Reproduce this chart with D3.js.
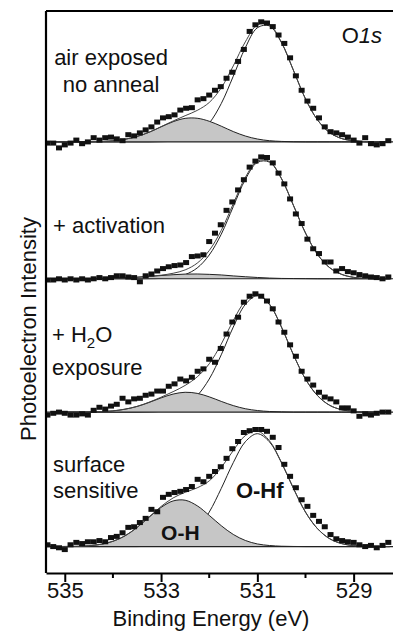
<!DOCTYPE html>
<html>
<head>
<meta charset="utf-8">
<script src="https://cdn.jsdelivr.net/npm/d3@7"></script>
<style>
    html, body { margin: 0; padding: 0; background: #fff; }
    svg { display: block; font-family: "Liberation Sans", Arial, sans-serif; }
</style>
</head>
<body>
<svg id="chart" width="393" height="639"></svg>
<script>
/* --------------------------------------------------------------
O1s XPS — four stacked spectra with O-H / O-Hf components
-------------------------------------------------------------- */

/* --------------------------------------------------------------
DATA (intensity in a.u., each spectrum above its own baseline)
-------------------------------------------------------------- */

// measured points: 535.36 eV down, 0.12 eV steps
const DATA_ENERGY = d3.range(60).map(i => 535.36 - 0.12 * i);

const DATA_AIR = [
    -1, -1, -5, -2.5, -1, 1.5, -1.5, 0, 3.5, 1.5,
    3.5, 4, 2.5, 1, 6, 5, 7.5, 10, 12.5, 16.5,
    20, 21, 22.5, 26.5, 28, 28.5, 35, 36, 39, 43,
    46, 53, 58, 67, 77, 92, 97.5, 100, 99, 96,
    89, 82, 70, 55, 43, 34, 28, 20, 12.5, 8.5,
    7.5, 6, 4, 1.5, -1, 3.5, -1.5, -2.5, -1.5, 1
];

const DATA_ACT = [
    -1, -1, 0, -1, 0, -1, 0, -1, 0, 1,
    0, 1, 2.5, 2.5, 1.5, 1, -2.5, 2.5, 4, 6.5,
    8.5, 10, 11, 11.5, 13.5, 18.5, 19, 20, 31, 38,
    45, 57, 64, 74, 82.5, 93, 98, 101.5, 101, 96.5,
    88, 79, 66.5, 54, 46, 33, 25, 21, 14, 14,
    6.5, 8.5, 6, 5, 3.5, 2.5, 1.5, 1, 0, 1.5
];

const DATA_H2O = [
    -2.5, -1, 0, -1, -2.5, -2.5, -1.5, -2.5, 1.5, 4,
    2.5, 5, 6.5, 11.5, 8.5, 11, 11.5, 14, 15, 17.5,
    17.5, 21.5, 23.5, 27.5, 26, 29, 34, 36, 44, 41.5,
    53, 65, 75, 79, 91.5, 96.5, 98.5, 96.5, 92.5, 86,
    75, 66.5, 56, 46.5, 34, 27.5, 22.5, 16.5, 12.5, 11,
    8.5, 3.5, 3.5, 1, -3.5, -1.5, -2.5, -1, 0, 0
];

const DATA_SURF = [
    1.5, 0, -1, -2.5, 1.5, 3.5, 2.5, 4, 4, 5,
    4, 7.5, 8.5, 11.5, 16, 16.5, 20, 23.5, 31, 29,
    41, 43.5, 45, 46, 47.5, 50, 56, 54, 58.5, 62.5,
    66.5, 73.5, 81.5, 87.5, 95, 96.5, 97.5, 97.5, 96, 91,
    82.5, 68.5, 58.5, 49, 39, 33.5, 26, 21, 16.5, 10,
    6.5, 5, 4, 3.5, 1.5, 0, 1, -1, 1, 3.5
];

// fitted components: 535.25 eV down, 0.25 eV steps
const FIT_ENERGY = d3.range(29).map(k => 535.25 - 0.25 * k);

const OH_AIR = [
    0, 0, 0, 0.1, 0.3, 0.9, 2.2, 4.5, 8.0, 12.5,
    16.8, 19.6, 19.7, 17.2, 13.1, 8.6, 4.9, 2.4, 1.0, 0.4,
    0.1, 0, 0, 0, 0, 0, 0, 0, 0
];
const OHF_AIR = [
    0, 0, 0, 0, 0, 0, 0, 0, 0, 0.2,
    0.6, 2.2, 6.5, 15.6, 31.9, 54.7, 78.4, 95.0, 96.6, 82.7,
    59.5, 35.8, 18.3, 7.8, 2.8, 0.9, 0.2, 0, 0
];

const OH_ACT = [
    0, 0, 0, 0.1, 0.2, 0.4, 0.8, 1.3, 2.0, 2.7,
    3.4, 3.9, 4.0, 3.7, 3.2, 2.4, 1.7, 1.1, 0.6, 0.3,
    0.2, 0.1, 0, 0, 0, 0, 0, 0, 0
];
const OHF_ACT = [
    0, 0, 0, 0, 0, 0, 0, 0, 0.1, 0.3,
    1.2, 3.5, 9.0, 19.8, 37.1, 60.1, 82.7, 96.9, 97.2, 83.4,
    61.0, 38.1, 20.3, 9.3, 3.7, 1.2, 0.3, 0.1, 0
];

const OH_H2O = [
    0, 0, 0, 0.1, 0.4, 1.0, 2.4, 4.7, 8.0, 11.8,
    15.0, 16.5, 15.6, 12.7, 8.9, 5.4, 2.8, 1.3, 0.5, 0.2,
    0, 0, 0, 0, 0, 0, 0, 0, 0
];
const OHF_H2O = [
    0, 0, 0, 0, 0, 0, 0, 0, 0.2, 0.6,
    2.0, 5.7, 13.7, 27.5, 47.7, 70.8, 89.6, 97.0, 89.6, 70.8,
    47.7, 27.5, 13.7, 5.7, 2.0, 0.6, 0.2, 0, 0
];

const OH_SURF = [
    0, 0.1, 0.2, 0.7, 1.9, 4.4, 8.9, 15.9, 24.4, 32.6,
    38.0, 38.6, 34.0, 26.0, 17.4, 10.1, 5.1, 2.2, 0.9, 0.3,
    0.1, 0, 0, 0, 0, 0, 0, 0, 0
];
const OHF_SURF = [
    0, 0, 0, 0, 0, 0, 0, 0, 0.2, 0.8,
    2.5, 6.6, 14.9, 28.7, 48.4, 69.9, 87.3, 94.0, 87.3, 69.9,
    48.4, 28.7, 14.9, 6.6, 2.5, 0.8, 0.2, 0, 0
];

// vertical offsets of the stacked spectra (a.u.)
const PANEL_OFFSET = [337, 223, 112, 0];

const MAJOR_TICKS = [535, 533, 531, 529];
const MINOR_TICKS = [534, 532, 530];

const PANELS = [
    { data: DATA_AIR,  oh: OH_AIR,  ohf: OHF_AIR,  offset: PANEL_OFFSET[0] },
    { data: DATA_ACT,  oh: OH_ACT,  ohf: OHF_ACT,  offset: PANEL_OFFSET[1] },
    { data: DATA_H2O,  oh: OH_H2O,  ohf: OHF_H2O,  offset: PANEL_OFFSET[2] },
    { data: DATA_SURF, oh: OH_SURF, ohf: OHF_SURF, offset: PANEL_OFFSET[3] }
];

/* --------------------------------------------------------------
LAYOUT
-------------------------------------------------------------- */

const margin = { left: 46, top: 11, right: -3, bottom: 66 };
const W = 393, H = 639;
const plotW = W - margin.left - margin.right;
const plotH = H - margin.top - margin.bottom;

const x = d3.scaleLinear().domain([535.39, 528.12]).range([0, plotW]);
const y = d3.scaleLinear().domain([-22, 446]).range([plotH, 0]);

const svg = d3.select("#chart");
const g = svg.append("g").attr("transform", `translate(${margin.left},${margin.top})`);

svg.append("defs").append("clipPath").attr("id", "plotClip")
    .append("rect").attr("width", plotW).attr("height", plotH);

const plot = g.append("g").attr("clip-path", "url(#plotClip)");

/* --------------------------------------------------------------
SPECTRA
-------------------------------------------------------------- */

function renderPanel(p) {
    const base = y(p.offset);
    const fit = FIT_ENERGY.map((e, k) => ({ e, oh: p.oh[k], ohf: p.ohf[k], tot: p.oh[k] + p.ohf[k] }));

    const line = key => d3.line()
        .x(d => x(d.e))
        .y(d => y(p.offset + d[key]))
        .curve(d3.curveCatmullRom.alpha(0.5));

    // O-Hf component first, the gray O-H area hides its foot
    plot.append("path").datum(fit).attr("d", line("ohf"))
        .attr("fill", "none").attr("stroke", "#222").attr("stroke-width", 1);

    plot.append("path")
        .datum(fit)
        .attr("d", d3.area()
            .x(d => x(d.e))
            .y0(base)
            .y1(d => y(p.offset + d.oh))
            .curve(d3.curveCatmullRom.alpha(0.5)))
        .attr("fill", "#c6c6c6");

    plot.append("line")
        .attr("x1", 0).attr("x2", plotW)
        .attr("y1", base).attr("y2", base)
        .attr("stroke", "#222").attr("stroke-width", 1.1);

    plot.append("path").datum(fit).attr("d", line("oh"))
        .attr("fill", "none").attr("stroke", "#222").attr("stroke-width", 1);

    plot.append("path").datum(fit).attr("d", line("tot"))
        .attr("fill", "none").attr("stroke", "#444").attr("stroke-width", 1);

    plot.append("g").selectAll("rect")
        .data(p.data)
        .enter()
        .append("rect")
        .attr("x", (d, i) => x(DATA_ENERGY[i]) - 3)
        .attr("y", d => y(p.offset + d) - 2.5)
        .attr("width", 6)
        .attr("height", 5)
        .attr("fill", "#111");
}

PANELS.forEach(renderPanel);

/* --------------------------------------------------------------
FRAME + AXES
-------------------------------------------------------------- */

g.append("line").attr("x1", 0).attr("x2", plotW).attr("y1", 0).attr("y2", 0)
    .attr("stroke", "#000").attr("stroke-width", 2.2);
g.append("line").attr("x1", 0).attr("x2", 0).attr("y1", 0).attr("y2", plotH)
    .attr("stroke", "#000").attr("stroke-width", 2.2);

const xAxis = g.append("g")
    .attr("transform", `translate(0,${plotH})`)
    .call(d3.axisBottom(x).tickValues(MAJOR_TICKS).tickFormat(d3.format("d"))
        .tickSize(9).tickPadding(0).tickSizeOuter(0));

xAxis.select(".domain").attr("stroke", "#000").attr("stroke-width", 2.2);
xAxis.selectAll(".tick line").attr("stroke", "#000").attr("stroke-width", 2);
xAxis.selectAll(".tick text")
    .attr("font-size", 22).attr("fill", "#111")
    .attr("font-family", "'Liberation Sans', Arial, sans-serif");

g.append("g")
    .attr("transform", `translate(0,${plotH})`)
    .selectAll("line")
    .data(MINOR_TICKS)
    .enter()
    .append("line")
    .attr("x1", d => x(d)).attr("x2", d => x(d))
    .attr("y1", 0).attr("y2", 5)
    .attr("stroke", "#000").attr("stroke-width", 2);

svg.append("text")
    .attr("x", 211).attr("y", 626)
    .attr("text-anchor", "middle")
    .attr("font-size", 22).attr("fill", "#111")
    .text("Binding Energy (eV)");

svg.append("text")
    .attr("transform", "translate(36,329) rotate(-90)")
    .attr("text-anchor", "middle")
    .attr("font-size", 22).attr("fill", "#111")
    .text("Photoelectron Intensity");

/* --------------------------------------------------------------
LABELS
-------------------------------------------------------------- */

const LABEL_SIZE = 22;

function label(txt, px, py, anchor) {
    return svg.append("text")
        .attr("x", px).attr("y", py)
        .attr("text-anchor", anchor || "start")
        .attr("font-size", LABEL_SIZE).attr("fill", "#111")
        .text(txt);
}

label("air exposed", 111, 65, "middle");
label("no anneal", 111, 92, "middle");

const o1s = svg.append("text")
    .attr("x", 382).attr("y", 43)
    .attr("text-anchor", "end")
    .attr("font-size", LABEL_SIZE).attr("fill", "#111");
o1s.append("tspan").text("O");
o1s.append("tspan").attr("font-style", "italic").text("1s");

label("+ activation", 53, 233);

const h2o = svg.append("text")
    .attr("x", 52).attr("y", 342)
    .attr("font-size", LABEL_SIZE).attr("fill", "#111");
h2o.append("tspan").text("+ H");
h2o.append("tspan").attr("font-size", 15).attr("dy", 6).text("2");
h2o.append("tspan").attr("dy", -6).text("O");
label("exposure", 52, 375);

label("surface", 53, 472);
label("sensitive", 53, 498);

svg.append("text")
    .attr("x", margin.left + x(532.6)).attr("y", 540)
    .attr("text-anchor", "middle")
    .attr("font-size", 21).attr("font-weight", "bold").attr("fill", "#111")
    .text("O-H");

svg.append("text")
    .attr("x", margin.left + x(530.95)).attr("y", 498)
    .attr("text-anchor", "middle")
    .attr("font-size", 22).attr("font-weight", "bold").attr("fill", "#111")
    .text("O-Hf");
</script>
</body>
</html>
